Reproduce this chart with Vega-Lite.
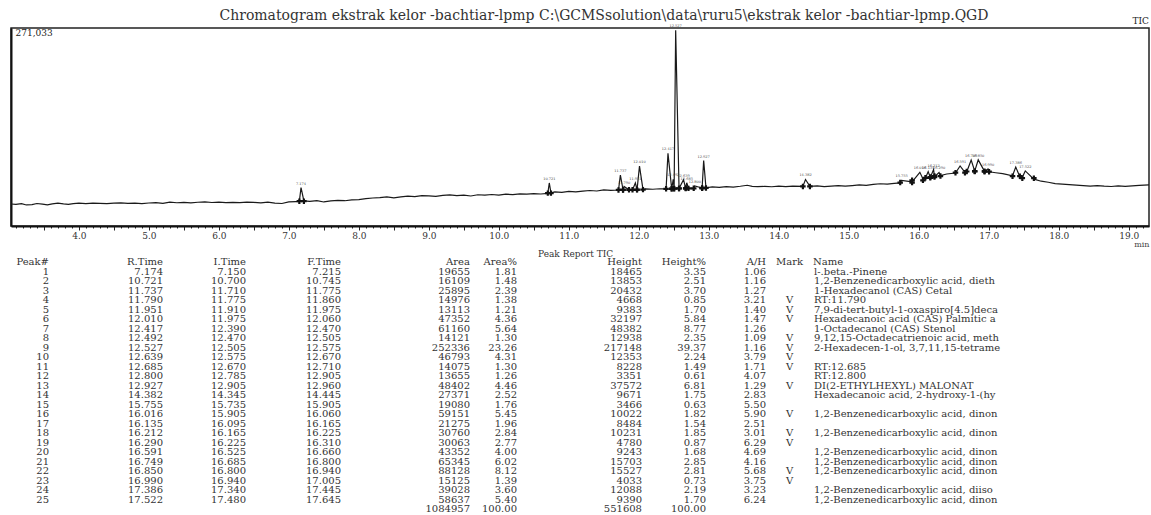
{
  "$schema": "https://vega.github.io/schema/vega-lite/v6.json",
  "padding": {"left": 10, "top": 8, "right": 0, "bottom": 0},
  "background": "white",
  "spacing": 0,
  "config": {
    "view": {"stroke": null},
    "text": {"font": "DejaVu Serif"},
    "title": {"font": "DejaVu Serif", "fontWeight": "normal", "color": "#333"}
  },
  "datasets": {
    "trace": [
      {"t": 3.03, "v": 30100}, {"t": 3.10, "v": 29500}, {"t": 3.18, "v": 30600}, {"t": 3.25, "v": 28800},
      {"t": 3.33, "v": 29300}, {"t": 3.40, "v": 30800}, {"t": 3.48, "v": 29900}, {"t": 3.55, "v": 29000},
      {"t": 3.62, "v": 30300}, {"t": 3.70, "v": 31200}, {"t": 3.78, "v": 30200}, {"t": 3.85, "v": 29600},
      {"t": 3.92, "v": 30700}, {"t": 4.00, "v": 31300}, {"t": 4.10, "v": 30600}, {"t": 4.20, "v": 31400},
      {"t": 4.30, "v": 31000}, {"t": 4.40, "v": 30500}, {"t": 4.50, "v": 31200}, {"t": 4.60, "v": 31600},
      {"t": 4.70, "v": 30900}, {"t": 4.80, "v": 31300}, {"t": 4.90, "v": 30600}, {"t": 5.00, "v": 31500},
      {"t": 5.10, "v": 31900}, {"t": 5.20, "v": 31100}, {"t": 5.30, "v": 32600}, {"t": 5.40, "v": 31800},
      {"t": 5.50, "v": 32300}, {"t": 5.60, "v": 31700}, {"t": 5.70, "v": 32500}, {"t": 5.80, "v": 32900},
      {"t": 5.90, "v": 32200}, {"t": 6.00, "v": 32600}, {"t": 6.10, "v": 31900}, {"t": 6.20, "v": 32400},
      {"t": 6.30, "v": 32100}, {"t": 6.40, "v": 32800}, {"t": 6.50, "v": 32300}, {"t": 6.60, "v": 31600},
      {"t": 6.70, "v": 32700}, {"t": 6.80, "v": 31400}, {"t": 6.90, "v": 30800}, {"t": 7.00, "v": 32900},
      {"t": 7.10, "v": 33500}, {"t": 7.150, "v": 33800}, {"t": 7.174, "v": 52700}, {"t": 7.215, "v": 34300},
      {"t": 7.30, "v": 33700}, {"t": 7.40, "v": 34800}, {"t": 7.50, "v": 32900}, {"t": 7.60, "v": 34300},
      {"t": 7.70, "v": 35000}, {"t": 7.80, "v": 34600}, {"t": 7.90, "v": 35700}, {"t": 8.00, "v": 36200},
      {"t": 8.10, "v": 37600}, {"t": 8.20, "v": 38300}, {"t": 8.30, "v": 38800}, {"t": 8.40, "v": 39800},
      {"t": 8.50, "v": 38600}, {"t": 8.60, "v": 39900}, {"t": 8.70, "v": 40800}, {"t": 8.80, "v": 40300},
      {"t": 8.90, "v": 41700}, {"t": 9.00, "v": 41200}, {"t": 9.10, "v": 40600}, {"t": 9.20, "v": 41900},
      {"t": 9.30, "v": 42500}, {"t": 9.40, "v": 41600}, {"t": 9.50, "v": 42200}, {"t": 9.60, "v": 41100},
      {"t": 9.70, "v": 42800}, {"t": 9.80, "v": 42300}, {"t": 9.90, "v": 43100}, {"t": 10.00, "v": 42400},
      {"t": 10.10, "v": 43600}, {"t": 10.20, "v": 43000}, {"t": 10.30, "v": 44100}, {"t": 10.40, "v": 43500},
      {"t": 10.50, "v": 44200}, {"t": 10.60, "v": 43800}, {"t": 10.700, "v": 44600}, {"t": 10.721, "v": 58900},
      {"t": 10.745, "v": 45400}, {"t": 10.80, "v": 46800}, {"t": 10.90, "v": 46100}, {"t": 11.00, "v": 47300},
      {"t": 11.10, "v": 46600}, {"t": 11.20, "v": 47800}, {"t": 11.30, "v": 48600}, {"t": 11.40, "v": 47900},
      {"t": 11.50, "v": 49400}, {"t": 11.60, "v": 48800}, {"t": 11.710, "v": 49300}, {"t": 11.737, "v": 69700},
      {"t": 11.775, "v": 49600}, {"t": 11.790, "v": 54000}, {"t": 11.860, "v": 49500}, {"t": 11.910, "v": 49400},
      {"t": 11.951, "v": 58900}, {"t": 11.975, "v": 49600}, {"t": 12.010, "v": 82000}, {"t": 12.060, "v": 50000},
      {"t": 12.10, "v": 50900}, {"t": 12.20, "v": 50300}, {"t": 12.30, "v": 51000}, {"t": 12.390, "v": 50800},
      {"t": 12.417, "v": 99400}, {"t": 12.470, "v": 51000}, {"t": 12.492, "v": 63900}, {"t": 12.505, "v": 51200},
      {"t": 12.527, "v": 268100}, {"t": 12.575, "v": 51400}, {"t": 12.639, "v": 63400}, {"t": 12.670, "v": 51500},
      {"t": 12.685, "v": 59200}, {"t": 12.710, "v": 51600}, {"t": 12.785, "v": 51300}, {"t": 12.800, "v": 54850},
      {"t": 12.905, "v": 52000}, {"t": 12.927, "v": 89600}, {"t": 12.960, "v": 52300}, {"t": 13.05, "v": 53600},
      {"t": 13.15, "v": 52800}, {"t": 13.25, "v": 54000}, {"t": 13.35, "v": 53300}, {"t": 13.45, "v": 54400},
      {"t": 13.55, "v": 55800}, {"t": 13.62, "v": 54200}, {"t": 13.70, "v": 53800}, {"t": 13.80, "v": 54300},
      {"t": 13.90, "v": 53700}, {"t": 14.00, "v": 54500}, {"t": 14.10, "v": 53900}, {"t": 14.20, "v": 54600},
      {"t": 14.345, "v": 54200}, {"t": 14.382, "v": 63700}, {"t": 14.445, "v": 54300}, {"t": 14.55, "v": 54900},
      {"t": 14.65, "v": 53800}, {"t": 14.75, "v": 54700}, {"t": 14.85, "v": 55300}, {"t": 14.95, "v": 54600},
      {"t": 15.05, "v": 55400}, {"t": 15.15, "v": 56200}, {"t": 15.25, "v": 55600}, {"t": 15.35, "v": 56900},
      {"t": 15.45, "v": 57800}, {"t": 15.55, "v": 57200}, {"t": 15.65, "v": 58400}, {"t": 15.735, "v": 58900},
      {"t": 15.755, "v": 62500}, {"t": 15.905, "v": 60500}, {"t": 16.016, "v": 73500}, {"t": 16.060, "v": 64500},
      {"t": 16.095, "v": 65500}, {"t": 16.135, "v": 74500}, {"t": 16.165, "v": 66500}, {"t": 16.212, "v": 77200},
      {"t": 16.225, "v": 67500}, {"t": 16.290, "v": 73300}, {"t": 16.310, "v": 69000}, {"t": 16.40, "v": 71200},
      {"t": 16.525, "v": 72500}, {"t": 16.591, "v": 82200}, {"t": 16.660, "v": 73500}, {"t": 16.685, "v": 74000},
      {"t": 16.749, "v": 90200}, {"t": 16.800, "v": 75200}, {"t": 16.850, "v": 90500}, {"t": 16.940, "v": 74800},
      {"t": 16.990, "v": 78000}, {"t": 17.005, "v": 74200}, {"t": 17.10, "v": 72900}, {"t": 17.20, "v": 71600},
      {"t": 17.340, "v": 68800}, {"t": 17.386, "v": 80600}, {"t": 17.445, "v": 67500}, {"t": 17.480, "v": 66800},
      {"t": 17.522, "v": 75400}, {"t": 17.645, "v": 64200}, {"t": 17.75, "v": 61300}, {"t": 17.85, "v": 59900},
      {"t": 17.95, "v": 58100}, {"t": 18.05, "v": 57400}, {"t": 18.15, "v": 56600}, {"t": 18.25, "v": 55900},
      {"t": 18.35, "v": 55200}, {"t": 18.45, "v": 54600}, {"t": 18.55, "v": 55300}, {"t": 18.65, "v": 54500},
      {"t": 18.75, "v": 54100}, {"t": 18.85, "v": 54800}, {"t": 18.95, "v": 54300}, {"t": 19.05, "v": 54900},
      {"t": 19.15, "v": 55600}, {"t": 19.29, "v": 56200}
    ],
    "peaks": [
      {"row": 1, "peak": 1, "rt": 7.174, "it": 7.150, "ft": 7.215, "area": 19655, "areap": 1.81, "height": 18465, "heightp": 3.35, "ah": 1.06, "mark": "", "name": "l-.beta.-Pinene", "base": 34000, "top": 52700},
      {"row": 2, "peak": 2, "rt": 10.721, "it": 10.700, "ft": 10.745, "area": 16109, "areap": 1.48, "height": 13853, "heightp": 2.51, "ah": 1.16, "mark": "", "name": "1,2-Benzenedicarboxylic acid, dieth", "base": 45000, "top": 58900},
      {"row": 3, "peak": 3, "rt": 11.737, "it": 11.710, "ft": 11.775, "area": 25895, "areap": 2.39, "height": 20432, "heightp": 3.70, "ah": 1.27, "mark": "", "name": "1-Hexadecanol (CAS) Cetal", "base": 49400, "top": 69700},
      {"row": 4, "peak": 4, "rt": 11.790, "it": 11.775, "ft": 11.860, "area": 14976, "areap": 1.38, "height": 4668, "heightp": 0.85, "ah": 3.21, "mark": "V", "name": "RT:11.790", "base": 49500, "top": 54000},
      {"row": 5, "peak": 5, "rt": 11.951, "it": 11.910, "ft": 11.975, "area": 13113, "areap": 1.21, "height": 9383, "heightp": 1.70, "ah": 1.40, "mark": "V", "name": "7,9-di-tert-butyl-1-oxaspiro[4.5]deca", "base": 49500, "top": 58900},
      {"row": 6, "peak": 6, "rt": 12.010, "it": 11.975, "ft": 12.060, "area": 47352, "areap": 4.36, "height": 32197, "heightp": 5.84, "ah": 1.47, "mark": "V", "name": "Hexadecanoic acid (CAS) Palmitic a", "base": 49800, "top": 82000},
      {"row": 7, "peak": 7, "rt": 12.417, "it": 12.390, "ft": 12.470, "area": 61160, "areap": 5.64, "height": 48382, "heightp": 8.77, "ah": 1.26, "mark": "", "name": "1-Octadecanol (CAS) Stenol", "base": 50900, "top": 99400},
      {"row": 8, "peak": 8, "rt": 12.492, "it": 12.470, "ft": 12.505, "area": 14121, "areap": 1.30, "height": 12938, "heightp": 2.35, "ah": 1.09, "mark": "V", "name": "9,12,15-Octadecatrienoic acid, meth", "base": 51100, "top": 63900},
      {"row": 9, "peak": 9, "rt": 12.527, "it": 12.505, "ft": 12.575, "area": 252336, "areap": 23.26, "height": 217148, "heightp": 39.37, "ah": 1.16, "mark": "V", "name": "2-Hexadecen-1-ol, 3,7,11,15-tetrame", "base": 51300, "top": 268100},
      {"row": 10, "peak": 10, "rt": 12.639, "it": 12.575, "ft": 12.670, "area": 46793, "areap": 4.31, "height": 12353, "heightp": 2.24, "ah": 3.79, "mark": "V", "name": "", "base": 51400, "top": 63400},
      {"row": 11, "peak": 11, "rt": 12.685, "it": 12.670, "ft": 12.710, "area": 14075, "areap": 1.30, "height": 8228, "heightp": 1.49, "ah": 1.71, "mark": "V", "name": "RT:12.685", "base": 51500, "top": 59200},
      {"row": 12, "peak": 12, "rt": 12.800, "it": 12.785, "ft": 12.905, "area": 13655, "areap": 1.26, "height": 3351, "heightp": 0.61, "ah": 4.07, "mark": "", "name": "RT:12.800", "base": 51600, "top": 54850},
      {"row": 13, "peak": 13, "rt": 12.927, "it": 12.905, "ft": 12.960, "area": 48402, "areap": 4.46, "height": 37572, "heightp": 6.81, "ah": 1.29, "mark": "V", "name": "DI(2-ETHYLHEXYL) MALONAT", "base": 52100, "top": 89600},
      {"row": 14, "peak": 14, "rt": 14.382, "it": 14.345, "ft": 14.445, "area": 27371, "areap": 2.52, "height": 9671, "heightp": 1.75, "ah": 2.83, "mark": "", "name": "Hexadecanoic acid, 2-hydroxy-1-(hy", "base": 54200, "top": 63700},
      {"row": 15, "peak": 15, "rt": 15.755, "it": 15.735, "ft": 15.905, "area": 19080, "areap": 1.76, "height": 3466, "heightp": 0.63, "ah": 5.50, "mark": "", "name": "", "base": 59500, "top": 62500},
      {"row": 16, "peak": 16, "rt": 16.016, "it": 15.905, "ft": 16.060, "area": 59151, "areap": 5.45, "height": 10022, "heightp": 1.82, "ah": 5.90, "mark": "V", "name": "1,2-Benzenedicarboxylic acid, dinon", "base": 62500, "top": 73500},
      {"row": 17, "peak": 17, "rt": 16.135, "it": 16.095, "ft": 16.165, "area": 21275, "areap": 1.96, "height": 8484, "heightp": 1.54, "ah": 2.51, "mark": "", "name": "", "base": 66000, "top": 74500},
      {"row": 18, "peak": 18, "rt": 16.212, "it": 16.165, "ft": 16.225, "area": 30760, "areap": 2.84, "height": 10231, "heightp": 1.85, "ah": 3.01, "mark": "V", "name": "1,2-Benzenedicarboxylic acid, dinon", "base": 67000, "top": 77200},
      {"row": 19, "peak": 19, "rt": 16.290, "it": 16.225, "ft": 16.310, "area": 30063, "areap": 2.77, "height": 4780, "heightp": 0.87, "ah": 6.29, "mark": "V", "name": "", "base": 68300, "top": 73300},
      {"row": 20, "peak": 20, "rt": 16.591, "it": 16.525, "ft": 16.660, "area": 43352, "areap": 4.00, "height": 9243, "heightp": 1.68, "ah": 4.69, "mark": "", "name": "1,2-Benzenedicarboxylic acid, dinon", "base": 73000, "top": 82200},
      {"row": 21, "peak": 21, "rt": 16.749, "it": 16.685, "ft": 16.800, "area": 65345, "areap": 6.02, "height": 15703, "heightp": 2.85, "ah": 4.16, "mark": "", "name": "1,2-Benzenedicarboxylic acid, dinon", "base": 74600, "top": 90200},
      {"row": 22, "peak": 22, "rt": 16.850, "it": 16.800, "ft": 16.940, "area": 88128, "areap": 8.12, "height": 15527, "heightp": 2.81, "ah": 5.68, "mark": "V", "name": "1,2-Benzenedicarboxylic acid, dinon", "base": 75000, "top": 90500},
      {"row": 23, "peak": 23, "rt": 16.990, "it": 16.940, "ft": 17.005, "area": 15125, "areap": 1.39, "height": 4033, "heightp": 0.73, "ah": 3.75, "mark": "V", "name": "", "base": 74400, "top": 78000},
      {"row": 24, "peak": 24, "rt": 17.386, "it": 17.340, "ft": 17.445, "area": 39028, "areap": 3.60, "height": 12088, "heightp": 2.19, "ah": 3.23, "mark": "", "name": "1,2-Benzenedicarboxylic acid, diiso", "base": 68200, "top": 80600},
      {"row": 25, "peak": 25, "rt": 17.522, "it": 17.480, "ft": 17.645, "area": 58637, "areap": 5.40, "height": 9390, "heightp": 1.70, "ah": 6.24, "mark": "", "name": "1,2-Benzenedicarboxylic acid, dinon", "base": 65500, "top": 75400},
      {"row": 26, "peak": null, "rt": null, "it": null, "ft": null, "area": 1084957, "areap": 100.00, "height": 551608, "heightp": 100.00, "ah": null, "mark": "", "name": "", "base": null, "top": null}
    ]
  },
  "vconcat": [
    {
      "title": {"text": "Chromatogram ekstrak kelor -bachtiar-lpmp C:\\GCMSsolution\\data\\ruru5\\ekstrak kelor -bachtiar-lpmp.QGD", "fontSize": 14, "offset": -6, "dx": 24, "anchor": "middle", "frame": "group"},
      "width": 1138,
      "height": 198,
      "view": {"stroke": "#222", "strokeWidth": 1.5},
      "layer": [
        {
          "data": {"name": "trace"},
          "mark": {"type": "line", "color": "#1a1a1a", "strokeWidth": 1.2, "clip": true},
          "encoding": {
            "x": {"field": "t", "type": "quantitative", "title": "min",
              "scale": {"domain": [3.03, 19.29], "nice": false, "zero": false},
              "axis": {"titleAnchor": "end", "titleFontSize": 8, "titleFontWeight": "normal", "titleFont": "DejaVu Serif", "titlePadding": 0, "titleColor": "#444",
                "tickCount": 170, "labelExpr": "round(datum.value*10) % 10 == 0 ? format(datum.value, '.1f') : ''",
                "labelOverlap": false, "labelFlush": false, "labelBound": false, "labelFont": "DejaVu Serif", "labelFontSize": 9, "labelColor": "#333", "labelPadding": 1,
                "tickSize": {"condition": {"test": "round(datum.value*10) % 5 == 0", "value": 4}, "value": 2},
                "tickColor": "#222", "tickWidth": 1, "domainColor": "#111", "domainWidth": 2, "grid": false}},
            "y": {"field": "v", "type": "quantitative", "title": null,
              "scale": {"domain": [0, 271033], "nice": false},
              "axis": {"values": [271033], "format": ",d", "ticks": false, "grid": false, "domain": true, "domainColor": "#111", "domainWidth": 2,
                "labelAlign": "left", "labelBaseline": "top", "labelPadding": -4, "labelFlush": false, "labelFont": "DejaVu Serif", "labelFontSize": 9, "labelColor": "#222"}}
          }
        },
        {
          "data": {"name": "peaks"},
          "transform": [{"filter": "isValid(datum.rt)"}],
          "mark": {"type": "point", "shape": "cross", "filled": true, "size": 30, "color": "#111", "opacity": 1},
          "encoding": {
            "x": {"field": "it", "type": "quantitative", "title": "min"},
            "y": {"field": "base", "type": "quantitative", "title": null}
          }
        },
        {
          "data": {"name": "peaks"},
          "transform": [{"filter": "isValid(datum.rt)"}],
          "mark": {"type": "point", "shape": "cross", "filled": true, "size": 30, "color": "#111", "opacity": 1},
          "encoding": {
            "x": {"field": "ft", "type": "quantitative", "title": "min"},
            "y": {"field": "base", "type": "quantitative", "title": null}
          }
        },
        {
          "data": {"name": "peaks"},
          "transform": [{"filter": "isValid(datum.rt)"}],
          "mark": {"type": "text", "fontSize": 3.5, "dy": -4, "color": "#444"},
          "encoding": {
            "x": {"field": "rt", "type": "quantitative", "title": "min"},
            "y": {"field": "top", "type": "quantitative", "title": null},
            "text": {"field": "rt", "type": "quantitative", "format": ".3f"}
          }
        },
        {
          "data": {"values": [{"label": "TIC"}]},
          "mark": {"type": "text", "align": "right", "baseline": "bottom", "dy": -2, "fontSize": 9, "color": "#222"},
          "encoding": {
            "x": {"datum": 19.29, "type": "quantitative", "title": "min"},
            "y": {"datum": 271033, "type": "quantitative", "title": null},
            "text": {"field": "label"}
          }
        }
      ]
    },
    {
      "title": {"text": "Peak Report TIC", "fontSize": 9, "offset": -2, "dx": 70, "anchor": "middle"},
      "data": {"name": "peaks"},
      "spacing": 0,
      "hconcat": [
        {"width": 38, "height": 247, "title": {"text": "Peak#", "anchor": "end", "frame": "group", "fontSize": 10, "offset": 0},
          "transform": [{"filter": "isValid(datum.peak)"}],
          "mark": {"type": "text", "align": "right", "fontSize": 10, "color": "#333"},
          "encoding": {"y": {"field": "row", "type": "ordinal", "axis": null, "scale": {"domain": [1,2,3,4,5,6,7,8,9,10,11,12,13,14,15,16,17,18,19,20,21,22,23,24,25,26]}},
            "x": {"value": "width"}, "text": {"field": "peak", "type": "quantitative", "format": "d"}}},
        {"width": 114, "height": 247, "title": {"text": "R.Time", "anchor": "end", "frame": "group", "fontSize": 10, "offset": 0},
          "transform": [{"filter": "isValid(datum.rt)"}],
          "mark": {"type": "text", "align": "right", "fontSize": 10, "color": "#333"},
          "encoding": {"y": {"field": "row", "type": "ordinal", "axis": null, "scale": {"domain": [1,2,3,4,5,6,7,8,9,10,11,12,13,14,15,16,17,18,19,20,21,22,23,24,25,26]}},
            "x": {"value": "width"}, "text": {"field": "rt", "type": "quantitative", "format": ".3f"}}},
        {"width": 83, "height": 247, "title": {"text": "I.Time", "anchor": "end", "frame": "group", "fontSize": 10, "offset": 0},
          "transform": [{"filter": "isValid(datum.it)"}],
          "mark": {"type": "text", "align": "right", "fontSize": 10, "color": "#333"},
          "encoding": {"y": {"field": "row", "type": "ordinal", "axis": null, "scale": {"domain": [1,2,3,4,5,6,7,8,9,10,11,12,13,14,15,16,17,18,19,20,21,22,23,24,25,26]}},
            "x": {"value": "width"}, "text": {"field": "it", "type": "quantitative", "format": ".3f"}}},
        {"width": 95, "height": 247, "title": {"text": "F.Time", "anchor": "end", "frame": "group", "fontSize": 10, "offset": 0},
          "transform": [{"filter": "isValid(datum.ft)"}],
          "mark": {"type": "text", "align": "right", "fontSize": 10, "color": "#333"},
          "encoding": {"y": {"field": "row", "type": "ordinal", "axis": null, "scale": {"domain": [1,2,3,4,5,6,7,8,9,10,11,12,13,14,15,16,17,18,19,20,21,22,23,24,25,26]}},
            "x": {"value": "width"}, "text": {"field": "ft", "type": "quantitative", "format": ".3f"}}},
        {"width": 129, "height": 247, "title": {"text": "Area", "anchor": "end", "frame": "group", "fontSize": 10, "offset": 0},
          "transform": [{"filter": "isValid(datum.area)"}],
          "mark": {"type": "text", "align": "right", "fontSize": 10, "color": "#333"},
          "encoding": {"y": {"field": "row", "type": "ordinal", "axis": null, "scale": {"domain": [1,2,3,4,5,6,7,8,9,10,11,12,13,14,15,16,17,18,19,20,21,22,23,24,25,26]}},
            "x": {"value": "width"}, "text": {"field": "area", "type": "quantitative", "format": "d"}}},
        {"width": 47, "height": 247, "title": {"text": "Area%", "anchor": "end", "frame": "group", "fontSize": 10, "offset": 0},
          "transform": [{"filter": "isValid(datum.areap)"}],
          "mark": {"type": "text", "align": "right", "fontSize": 10, "color": "#333"},
          "encoding": {"y": {"field": "row", "type": "ordinal", "axis": null, "scale": {"domain": [1,2,3,4,5,6,7,8,9,10,11,12,13,14,15,16,17,18,19,20,21,22,23,24,25,26]}},
            "x": {"value": "width"}, "text": {"field": "areap", "type": "quantitative", "format": ".2f"}}},
        {"width": 125, "height": 247, "title": {"text": "Height", "anchor": "end", "frame": "group", "fontSize": 10, "offset": 0},
          "transform": [{"filter": "isValid(datum.height)"}],
          "mark": {"type": "text", "align": "right", "fontSize": 10, "color": "#333"},
          "encoding": {"y": {"field": "row", "type": "ordinal", "axis": null, "scale": {"domain": [1,2,3,4,5,6,7,8,9,10,11,12,13,14,15,16,17,18,19,20,21,22,23,24,25,26]}},
            "x": {"value": "width"}, "text": {"field": "height", "type": "quantitative", "format": "d"}}},
        {"width": 64, "height": 247, "title": {"text": "Height%", "anchor": "end", "frame": "group", "fontSize": 10, "offset": 0},
          "transform": [{"filter": "isValid(datum.heightp)"}],
          "mark": {"type": "text", "align": "right", "fontSize": 10, "color": "#333"},
          "encoding": {"y": {"field": "row", "type": "ordinal", "axis": null, "scale": {"domain": [1,2,3,4,5,6,7,8,9,10,11,12,13,14,15,16,17,18,19,20,21,22,23,24,25,26]}},
            "x": {"value": "width"}, "text": {"field": "heightp", "type": "quantitative", "format": ".2f"}}},
        {"width": 60, "height": 247, "title": {"text": "A/H", "anchor": "end", "frame": "group", "fontSize": 10, "offset": 0},
          "transform": [{"filter": "isValid(datum.ah)"}],
          "mark": {"type": "text", "align": "right", "fontSize": 10, "color": "#333"},
          "encoding": {"y": {"field": "row", "type": "ordinal", "axis": null, "scale": {"domain": [1,2,3,4,5,6,7,8,9,10,11,12,13,14,15,16,17,18,19,20,21,22,23,24,25,26]}},
            "x": {"value": "width"}, "text": {"field": "ah", "type": "quantitative", "format": ".2f"}}},
        {"width": 47, "height": 247, "title": {"text": "Mark", "anchor": "middle", "frame": "group", "fontSize": 10, "offset": 0},
          "mark": {"type": "text", "align": "center", "fontSize": 10, "color": "#333"},
          "encoding": {"y": {"field": "row", "type": "ordinal", "axis": null, "scale": {"domain": [1,2,3,4,5,6,7,8,9,10,11,12,13,14,15,16,17,18,19,20,21,22,23,24,25,26]}},
            "text": {"field": "mark", "type": "nominal"}}},
        {"width": 2, "height": 247, "title": {"text": "Name", "anchor": "start", "frame": "group", "fontSize": 10, "offset": 0},
          "mark": {"type": "text", "align": "left", "fontSize": 10, "color": "#333", "limit": 337, "ellipsis": ""},
          "encoding": {"y": {"field": "row", "type": "ordinal", "axis": null, "scale": {"domain": [1,2,3,4,5,6,7,8,9,10,11,12,13,14,15,16,17,18,19,20,21,22,23,24,25,26]}},
            "text": {"field": "name", "type": "nominal"}}}
      ]
    }
  ]
}
